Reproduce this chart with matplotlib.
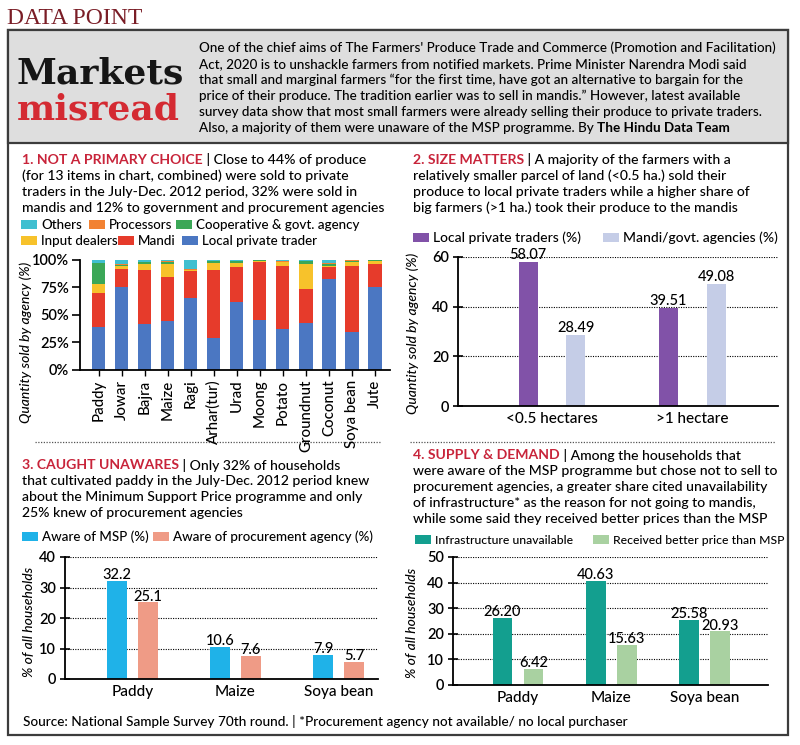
import matplotlib
matplotlib.use('Agg')
import matplotlib.pyplot as plt
from matplotlib.patches import Rectangle
import numpy as np

plt.rcParams['font.family'] = ['Lato', 'DejaVu Sans']
plt.rcParams['font.weight'] = 'medium'

# ---- data -------------------------------------------------------------
crops = ['Paddy', 'Jowar', 'Bajra', 'Maize', 'Ragi', 'Arhar(tur)', 'Urad',
         'Moong', 'Potato', 'Groundnut', 'Coconut', 'Soya bean', 'Jute']
local_trader = [39, 75.5, 41.5, 44.5, 65.5, 29, 62, 45.5, 37, 42.5, 82, 34.5, 75.5]
mandi = [30.5, 16, 49, 39.5, 24, 62, 31, 52, 57.5, 30.5, 11, 60, 20.5]
input_dealers = [8.5, 2.5, 5.5, 12, 1, 6, 4, 1.5, 3, 23, 1.5, 3, 3]
cooperative = [18.5, 1.5, 1.5, 2, 0.5, 1.5, 1.5, 0.5, 0.5, 2.5, 1.5, 1.5, 0.5]
processors = [0.5, 0.5, 0.5, 0.5, 0.5, 0.5, 0.5, 0.5, 0.5, 0.5, 0.5, 0.5, 0.5]
others = [3, 4, 2, 1.5, 8.5, 1, 1, 0, 1.5, 1, 3.5, 0.5, 0.5]

size_groups = ['<0.5 hectares', '>1 hectare']
size_private = [58.07, 39.51]
size_mandi = [28.49, 49.08]

aware_crops = ['Paddy', 'Maize', 'Soya bean']
aware_msp = [32.2, 10.6, 7.9]
aware_agency = [25.1, 7.6, 5.7]

reason_crops = ['Paddy', 'Maize', 'Soya bean']
infra_unavailable = [26.20, 40.63, 25.58]
better_price = [6.42, 15.63, 20.93]

# ---- helpers ----------------------------------------------------------
W, H = 800, 745
fig = plt.figure(figsize=(8, 7.45), dpi=100)
fig.patch.set_facecolor('white')

RED = '#c8243a'


def fx(px):
    return px / W


def fy(py):
    return 1 - py / H


def box(l, t, r, b, **kw):
    fig.patches.append(Rectangle((fx(l), fy(b)), (r - l) / W, (b - t) / H,
                                 transform=fig.transFigure, **kw))


def ax_at(l, t, r, b):
    ax = fig.add_axes([fx(l), fy(b), (r - l) / W, (b - t) / H])
    ax.set_zorder(2)
    ax.patch.set_alpha(0)
    return ax


def runs(x, y, parts, size=10):
    rend = fig.canvas.get_renderer()
    for txt, kw in parts:
        t = fig.text(fx(x), fy(y), txt, fontsize=size, va='center', ha='left', **kw)
        x += t.get_window_extent(rend).width


def title_block(x, y0, head, lines, size=10.1, step=16):
    runs(x, y0, [(head, dict(color=RED, weight='bold')),
                 (' | ' + lines[0], dict(color='black'))], size)
    for i, ln in enumerate(lines[1:], 1):
        fig.text(fx(x), fy(y0 + i * step), ln, fontsize=size, va='center')


def legend_row(y, items, size=9.6, sw=16):
    for x, color, label in items:
        box(x, y - 5, x + sw, y + 4, facecolor=color, edgecolor='none', zorder=3)
        fig.text(fx(x + sw + 4), fy(y), label, fontsize=size, va='center')


def style_bar_axes(ax):
    for s in ['top', 'right']:
        ax.spines[s].set_visible(False)
    for s in ['left', 'bottom']:
        ax.spines[s].set_linewidth(1.3)
    ax.yaxis.grid(True, linestyle=(0, (1, 1.2)), color='black', linewidth=0.8)
    ax.set_axisbelow(True)
    ax.tick_params(axis='x', length=0, labelsize=11, pad=4)
    ax.tick_params(axis='y', direction='inout', length=7, width=1.2, labelsize=10.5, pad=3)
    for lab in ax.get_yticklabels():
        lab.set_weight('semibold')


def value_labels(ax, bars, vals, fmt, dy):
    for b, v in zip(bars, vals):
        ax.annotate(fmt.format(v), (b.get_x() + b.get_width() / 2, v), xytext=(0, dy),
                    textcoords='offset points', ha='center', va='bottom', fontsize=10.5)


# ---- frame & header ---------------------------------------------------
fig.text(fx(7), fy(19), 'DATA POINT', fontsize=17, family='Liberation Serif',
         color='#7a1d26', va='center', weight='normal')
box(8, 30, 788, 735, facecolor='white', edgecolor='#3c3c3c', linewidth=1.6, zorder=-10)
box(8, 30, 788, 143, facecolor='#dedede', edgecolor='#3c3c3c', linewidth=1.6, zorder=-9)

fig.text(fx(17), fy(74), 'Markets', fontsize=26, family='DejaVu Serif',
         weight='bold', color='#161616', va='center')
fig.text(fx(17), fy(110), 'misread', fontsize=26, family='DejaVu Serif',
         weight='bold', color='#d42a32', va='center')

intro = [
    "One of the chief aims of The Farmers' Produce Trade and Commerce (Promotion and Facilitation)",
    "Act, 2020 is to unshackle farmers from notified markets. Prime Minister Narendra Modi said",
    "that small and marginal farmers \u201cfor the first time, have got an alternative to bargain for the",
    "price of their produce. The tradition earlier was to sell in mandis.\u201d However, latest available",
    "survey data show that most small farmers were already selling their produce to private traders.",
]
for i, ln in enumerate(intro):
    fig.text(fx(199), fy(48 + i * 16), ln, fontsize=9.7, va='center')
runs(199, 48 + 5 * 16, [('Also, a majority of them were unaware of the MSP programme. By ', {}),
                        ('The Hindu Data Team', dict(weight='bold'))], 9.7)

# ---- panel 1 ----------------------------------------------------------
title_block(22, 160, '1. NOT A PRIMARY CHOICE', [
    'Close to 44% of produce',
    '(for 13 items in chart, combined) were sold to private',
    'traders in the July-Dec. 2012 period, 32% were sold in',
    'mandis and 12% to government and procurement agencies'])

stack_names = ['Local private trader', 'Mandi', 'Input dealers',
               'Cooperative & govt. agency', 'Processors', 'Others']
stack_vals = [local_trader, mandi, input_dealers, cooperative, processors, others]
stack_cols = ['#4b77c2', '#e63b2b', '#f7c22b', '#3ba757', '#f28232', '#40bfd0']

legend_row(225, [(21, stack_cols[5], stack_names[5]),
                 (89, stack_cols[4], stack_names[4]),
                 (176, stack_cols[3], stack_names[3])])
legend_row(241, [(21, stack_cols[2], stack_names[2]),
                 (118, stack_cols[1], stack_names[1]),
                 (182, stack_cols[0], stack_names[0])])

ax1 = ax_at(80, 259.6, 390, 370)
xs = np.arange(len(crops))
bottom = np.zeros(len(crops))
for vals, col in zip(stack_vals, stack_cols):
    ax1.bar(xs, vals, 0.57, bottom=bottom, color=col, linewidth=0)
    bottom += np.array(vals)
ax1.set_xlim(-0.81, 12.65)
ax1.set_ylim(0, 100)
ax1.set_yticks([0, 25, 50, 75, 100])
ax1.set_yticklabels(['0%', '25%', '50%', '75%', '100%'])
ax1.set_xticks(xs)
ax1.set_xticklabels(crops, rotation=90, fontsize=10.8)
for s in ['top', 'right']:
    ax1.spines[s].set_visible(False)
for s in ['left', 'bottom']:
    ax1.spines[s].set_linewidth(1.3)
ax1.tick_params(axis='y', length=6, width=1.2, labelsize=10.5, pad=2)
ax1.tick_params(axis='x', length=4, width=1, pad=3)
for lab in ax1.get_yticklabels():
    lab.set_weight('semibold')
fig.text(fx(26), fy(342), 'Quantity sold by agency (%)', rotation=90, style='italic',
         fontsize=10, ha='center', va='center')

# ---- panel 2 ----------------------------------------------------------
title_block(413, 160, '2. SIZE MATTERS', [
    'A majority of the farmers with a',
    'relatively smaller parcel of land (<0.5 ha.) sold their',
    'produce to local private traders while a higher share of',
    'big farmers (>1 ha.) took their produce to the mandis'])
c2 = ['#8152a8', '#c5cde7']
legend_row(238, [(413, c2[0], 'Local private traders (%)'),
                 (603, c2[1], 'Mandi/govt. agencies (%)')], 10)

ax2 = ax_at(458, 257, 778, 406)
g = np.arange(len(size_groups))
for off, vals, col in [(-0.17, size_private, c2[0]), (0.17, size_mandi, c2[1])]:
    bars = ax2.bar(g + off, vals, 0.136, color=col, linewidth=0)
    value_labels(ax2, bars, vals, '{:.2f}', 0)
ax2.set_xlim(-0.67, 1.61)
ax2.set_ylim(0, 60)
ax2.set_yticks([0, 20, 40, 60])
ax2.set_xticks(g)
ax2.set_xticklabels(size_groups)
style_bar_axes(ax2)
fig.text(fx(413), fy(333), 'Quantity sold by agency (%)', rotation=90, style='italic',
         fontsize=10, ha='center', va='center')

# ---- separators -------------------------------------------------------
fig.add_artist(plt.Line2D([fx(35), fx(380)], [fy(442), fy(442)], color='#555555',
                          linestyle=(0, (1, 1.2)), linewidth=0.9))
fig.add_artist(plt.Line2D([fx(410), fx(775)], [fy(442), fy(442)], color='#555555',
                          linestyle=(0, (1, 1.2)), linewidth=0.9))

# ---- panel 3 ----------------------------------------------------------
title_block(22, 465, '3. CAUGHT UNAWARES', [
    'Only 32% of households',
    'that cultivated paddy in the July-Dec. 2012 period knew',
    'about the Minimum Support Price programme and only',
    '25% knew of procurement agencies'])
c3 = ['#1fb2e8', '#ef9b86']
legend_row(537, [(22, c3[0], 'Aware of MSP (%)'),
                 (153, c3[1], 'Aware of procurement agency (%)')], 9.6)

ax3 = ax_at(65, 557, 378, 679)
g3 = np.arange(len(aware_crops))
for off, vals, col in [(-0.15, aware_msp, c3[0]), (0.15, aware_agency, c3[1])]:
    bars = ax3.bar(g3 + off, vals, 0.194, color=col, linewidth=0)
    value_labels(ax3, bars, vals, '{:.1f}', -1)
ax3.set_xlim(-0.655, 2.384)
ax3.set_ylim(0, 40)
ax3.set_yticks([0, 10, 20, 30, 40])
ax3.set_xticks(g3)
ax3.set_xticklabels(aware_crops)
style_bar_axes(ax3)
fig.text(fx(29), fy(622), '% of all households', rotation=90, style='italic',
         fontsize=10, ha='center', va='center')

# ---- panel 4 ----------------------------------------------------------
title_block(413, 455, '4. SUPPLY & DEMAND', [
    'Among the households that',
    'were aware of the MSP programme but chose not to sell to',
    'procurement agencies, a greater share cited unavailability',
    'of infrastructure* as the reason for not going to mandis,',
    'while some said they received better prices than the MSP'])
c4 = ['#139f8f', '#a9d1a1']
legend_row(540, [(415, c4[0], 'Infrastructure unavailable'),
                 (593, c4[1], 'Received better price than MSP')], 8.7)

ax4 = ax_at(453, 557, 768, 685)
g4 = np.arange(len(reason_crops))
for off, vals, col in [(-0.167, infra_unavailable, c4[0]), (0.167, better_price, c4[1])]:
    bars = ax4.bar(g4 + off, vals, 0.21, color=col, linewidth=0)
    value_labels(ax4, bars, vals, '{:.2f}', -1)
ax4.set_xlim(-0.697, 2.68)
ax4.set_ylim(0, 50)
ax4.set_yticks([0, 10, 20, 30, 40, 50])
ax4.set_xticks(g4)
ax4.set_xticklabels(reason_crops)
style_bar_axes(ax4)
fig.text(fx(412), fy(623), '% of all households', rotation=90, style='italic',
         fontsize=10, ha='center', va='center')

# ---- source -----------------------------------------------------------
fig.text(fx(23), fy(722), 'Source: National Sample Survey 70th round. | '
         '*Procurement agency not available/ no local purchaser', fontsize=9.8, va='center')

fig.savefig('out.png', dpi=100)
